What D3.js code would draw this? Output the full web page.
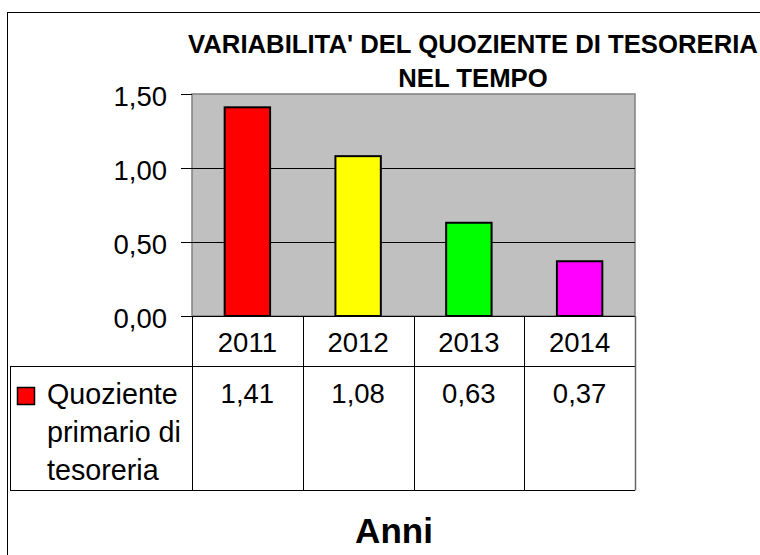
<!DOCTYPE html>
<html>
<head>
<meta charset="utf-8">
<script src="https://cdn.jsdelivr.net/npm/d3@7"></script>
<style>
  body { margin: 0; background: #fff; }
  svg { display: block; font-family: Arial, "Liberation Sans", sans-serif; }
</style>
</head>
<body>
<div id="chart-area"></div>
<script>
var years = ["2011", "2012", "2013", "2014"];
var values = [1.41, 1.08, 0.63, 0.37];
var colors = ["#ff0000", "#ffff00", "#00ff00", "#ff00ff"];
var yTicks = [0, 0.5, 1, 1.5];
var seriesName = ["Quoziente", "primario di", "tesoreria"];
var titleLines = ["VARIABILITA' DEL QUOZIENTE DI TESORERIA", "NEL TEMPO"];
var axisTitle = "Anni";

var W = 760, H = 555;
var plot = { left: 192, right: 635, top: 94, bottom: 316 };
var tableLeft = 10, headerBottom = 366, tableBottom = 490;

var fmt = function (v) { return d3.format(".2f")(v).replace(".", ","); };

var svg = d3.select("#chart-area").append("svg")
    .attr("width", W)
    .attr("height", H);

// outer chart border (runs off the right and bottom)
svg.append("rect")
    .attr("x", 7.5).attr("y", 12.5)
    .attr("width", W + 10).attr("height", H + 10)
    .attr("fill", "none").attr("stroke", "#000");

var x = d3.scaleBand().domain(years).range([plot.left, plot.right]);
var xBar = d3.scaleBand().domain(years).range([plot.left, plot.right])
    .paddingInner(0.59).paddingOuter(0.295);
var y = d3.scaleLinear().domain([0, 1.5]).range([plot.bottom, plot.top]);

// plot background
svg.append("rect")
    .attr("x", plot.left).attr("y", plot.top)
    .attr("width", plot.right - plot.left).attr("height", plot.bottom - plot.top)
    .attr("fill", "#c0c0c0")
    .attr("stroke", "#808080").attr("stroke-width", 1.5);

// gridlines
svg.append("g").selectAll("line")
    .data(yTicks.filter(function (d) { return d > 0 && d < 1.5; }))
  .enter().append("line")
    .attr("x1", plot.left).attr("x2", plot.right)
    .attr("y1", function (d) { return Math.round(y(d)) + 0.5; })
    .attr("y2", function (d) { return Math.round(y(d)) + 0.5; })
    .attr("stroke", "#000");

// y axis
var yAxis = svg.append("g")
    .attr("transform", "translate(" + plot.left + ",0)")
    .call(d3.axisLeft(y).tickValues(yTicks).tickSize(11).tickPadding(14).tickFormat(fmt));
yAxis.select(".domain").remove();
yAxis.selectAll(".tick line").attr("stroke", "#000");
yAxis.selectAll("text")
    .attr("font-size", 27.5)
    .attr("fill", "#000")
    .attr("font-family", "Arial, 'Liberation Sans', sans-serif")
    .attr("dy", "0.42em");

// bars
svg.append("g").selectAll("rect")
    .data(values)
  .enter().append("rect")
    .attr("x", function (d, i) { return xBar(years[i]); })
    .attr("y", function (d) { return y(d); })
    .attr("width", xBar.bandwidth())
    .attr("height", function (d) { return y(0) - y(d); })
    .attr("fill", function (d, i) { return colors[i]; })
    .attr("stroke", "#000").attr("stroke-width", 2);

// baseline
svg.append("line")
    .attr("x1", plot.left - 11).attr("x2", plot.right)
    .attr("y1", plot.bottom + 0.5).attr("y2", plot.bottom + 0.5)
    .attr("stroke", "#000");

// data table
var table = svg.append("g");
table.append("line")
    .attr("x1", tableLeft).attr("x2", plot.right)
    .attr("y1", headerBottom + 0.5).attr("y2", headerBottom + 0.5)
    .attr("stroke", "#000");
table.append("line")
    .attr("x1", tableLeft).attr("x2", plot.right)
    .attr("y1", tableBottom + 0.5).attr("y2", tableBottom + 0.5)
    .attr("stroke", "#000");
table.append("line")
    .attr("x1", tableLeft + 0.5).attr("x2", tableLeft + 0.5)
    .attr("y1", headerBottom).attr("y2", tableBottom)
    .attr("stroke", "#000");

var edges = years.map(function (d) { return x(d); }).concat([plot.right]);
table.selectAll(".col")
    .data(edges)
  .enter().append("line")
    .attr("class", "col")
    .attr("x1", function (d) { return Math.round(d) + 0.5; })
    .attr("x2", function (d) { return Math.round(d) + 0.5; })
    .attr("y1", plot.bottom).attr("y2", tableBottom + 0.5)
    .attr("stroke", function (d, i) { return i === edges.length - 1 ? "#666" : "#000"; })
    .attr("stroke-width", function (d, i) { return i === edges.length - 1 ? 1.5 : 1; });

table.selectAll(".year")
    .data(years)
  .enter().append("text")
    .attr("class", "year")
    .attr("x", function (d) { return x(d) + x.bandwidth() / 2; })
    .attr("y", 352)
    .attr("text-anchor", "middle")
    .attr("font-size", 27.5)
    .text(function (d) { return d; });

table.selectAll(".val")
    .data(values)
  .enter().append("text")
    .attr("class", "val")
    .attr("x", function (d, i) { return x(years[i]) + x.bandwidth() / 2; })
    .attr("y", 403)
    .attr("text-anchor", "middle")
    .attr("font-size", 27.5)
    .text(function (d) { return fmt(d); });

// legend key
table.append("rect")
    .attr("x", 17.5).attr("y", 387.5)
    .attr("width", 17).attr("height", 17)
    .attr("fill", colors[0])
    .attr("stroke", "#000").attr("stroke-width", 1.5);

table.selectAll(".leg")
    .data(seriesName)
  .enter().append("text")
    .attr("class", "leg")
    .attr("x", 47)
    .attr("y", function (d, i) { return 404 + i * 38; })
    .attr("font-size", 28.7)
    .text(function (d) { return d; });

// title
svg.selectAll(".title")
    .data(titleLines)
  .enter().append("text")
    .attr("class", "title")
    .attr("x", 473)
    .attr("y", function (d, i) { return 53 + i * 34; })
    .attr("text-anchor", "middle")
    .attr("font-size", 25.7)
    .attr("font-weight", "bold")
    .text(function (d) { return d; });

// category axis title
svg.append("text")
    .attr("x", 394)
    .attr("y", 543)
    .attr("text-anchor", "middle")
    .attr("font-size", 35)
    .attr("font-weight", "bold")
    .text(axisTitle);
</script>
</body>
</html>
